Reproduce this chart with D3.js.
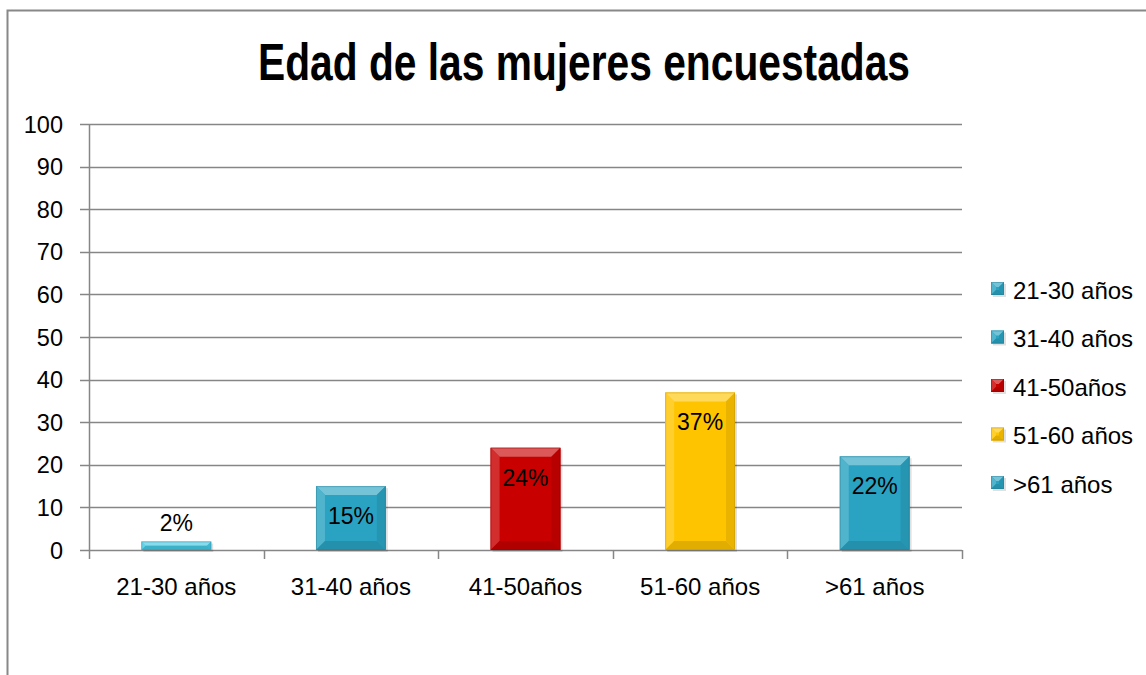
<!DOCTYPE html>
<html><head><meta charset="utf-8">
<script src="https://cdn.jsdelivr.net/npm/d3@7"></script>
<style>body{margin:0;background:#fff}svg{display:block}text{font-family:"Liberation Sans",Arial,sans-serif;fill:#000}</style>
</head><body><svg id="c" width="1146" height="675"></svg>
<script>
const categories = ["21-30 años","31-40 años","41-50años","51-60 años",">61 años"];
const values = [2,15,24,37,22];
const valueLabels = ["2%","15%","24%","37%","22%"];
const yTicks = [0,10,20,30,40,50,60,70,80,90,100];
const colors = ["#45c8e3","#2aa3c2","#c80000","#ffc400","#2aa3c2"];
const legendColors = ["#2aa3c2","#2aa3c2","#c80000","#ffc400","#2aa3c2"];
const title = "Edad de las mujeres encuestadas";

const svg = d3.select("#c");
// frame
svg.append("path").attr("d","M7.5,680 L7.5,10.5 L1150,10.5").attr("fill","none").attr("stroke","#888").attr("stroke-width",2);

const x = d3.scaleBand().domain(categories).range([89,962]).paddingInner(0.6).paddingOuter(0.3);
const y = d3.scaleLinear().domain([0,100]).range([550,124]);

// gridlines
svg.append("g").selectAll("line").data(yTicks).join("line")
  .attr("x1",80).attr("x2",962).attr("y1",d=>Math.round(y(d))+0.5).attr("y2",d=>Math.round(y(d))+0.5)
  .attr("stroke","#868686").attr("stroke-width",1.5);
// y labels
svg.append("g").selectAll("text").data(yTicks).join("text")
  .attr("x",63).attr("y",d=>y(d)+8.5).attr("text-anchor","end").attr("font-size",23.5).text(d=>d);
// y axis
svg.append("line").attr("x1",89.5).attr("x2",89.5).attr("y1",124).attr("y2",550).attr("stroke","#868686").attr("stroke-width",1.5);
// x category ticks
const bounds = d3.range(categories.length+1).map(i=>89+i*(873/categories.length));
svg.append("g").selectAll("line").data(bounds).join("line")
  .attr("x1",d=>Math.round(d)+0.5).attr("x2",d=>Math.round(d)+0.5).attr("y1",550).attr("y2",559)
  .attr("stroke","#868686").attr("stroke-width",1.5);
// x labels
svg.append("g").selectAll("text").data(categories).join("text")
  .attr("x",d=>x(d)+x.bandwidth()/2).attr("y",595).attr("text-anchor","middle").attr("font-size",24).text(d=>d);

function bevel(g, x0, y0, w, h, col, b){
  const c = d3.color(col);
  const light = d3.interpolateRgb(col,"#fff")(0.35);
  const lighter = d3.interpolateRgb(col,"#fff")(0.18);
  const dark = c.darker(0.35).toString();
  const darkSide = c.darker(0.25).toString();
  b = Math.min(b, h/2, w/2);
  g.append("rect").attr("x",x0).attr("y",y0).attr("width",w).attr("height",h).attr("fill",col);
  g.append("polygon").attr("points",[[x0,y0],[x0+w,y0],[x0+w-b,y0+b],[x0+b,y0+b]].join(" ")).attr("fill",light);
  g.append("polygon").attr("points",[[x0,y0],[x0+b,y0+b],[x0+b,y0+h-b],[x0,y0+h]].join(" ")).attr("fill",lighter);
  g.append("polygon").attr("points",[[x0+w,y0],[x0+w,y0+h],[x0+w-b,y0+h-b],[x0+w-b,y0+b]].join(" ")).attr("fill",darkSide);
  g.append("polygon").attr("points",[[x0,y0+h],[x0+b,y0+h-b],[x0+w-b,y0+h-b],[x0+w,y0+h]].join(" ")).attr("fill",dark);
  g.append("rect").attr("x",x0+0.5).attr("y",y0+0.5).attr("width",w-1).attr("height",h-1).attr("fill","none").attr("stroke",c.darker(0.8)).attr("stroke-opacity",0.4);
}

const bars = svg.append("g");
values.forEach((v,i)=>{
  const x0 = x(categories[i]), w = x.bandwidth(), y0 = y(v), h = y(0)-y(v);
  bars.append("rect").attr("x",x0+2).attr("y",y0+2).attr("width",w).attr("height",h).attr("fill","#000").attr("opacity",0.12);
  bevel(bars, x0, y0, w, h, colors[i], 9);
});
// value labels
svg.append("g").selectAll("text").data(values).join("text")
  .attr("x",(d,i)=>x(categories[i])+x.bandwidth()/2)
  .attr("y",d=> d<5 ? y(d)-10 : y(d)+38)
  .attr("text-anchor","middle").attr("font-size",23).text((d,i)=>valueLabels[i]);

// legend
const leg = svg.append("g");
categories.forEach((c,i)=>{
  const cy = 290 + i*48.5;
  leg.append("rect").attr("x",993).attr("y",cy-6).attr("width",13).attr("height",13).attr("fill","#000").attr("opacity",0.12);
  bevel(leg, 991, cy-8, 13, 13, legendColors[i], 5);
  leg.append("text").attr("x",1013).attr("y",cy+8.5).attr("font-size",24).text(c);
});

// title
svg.append("text").attr("x",258).attr("y",80).attr("font-size",52).attr("font-weight","bold")
  .attr("textLength",652).attr("lengthAdjust","spacingAndGlyphs")
  .style("font-family",'"Liberation Sans Narrow","Liberation Sans",Arial,sans-serif').text(title);
</script></body></html>
